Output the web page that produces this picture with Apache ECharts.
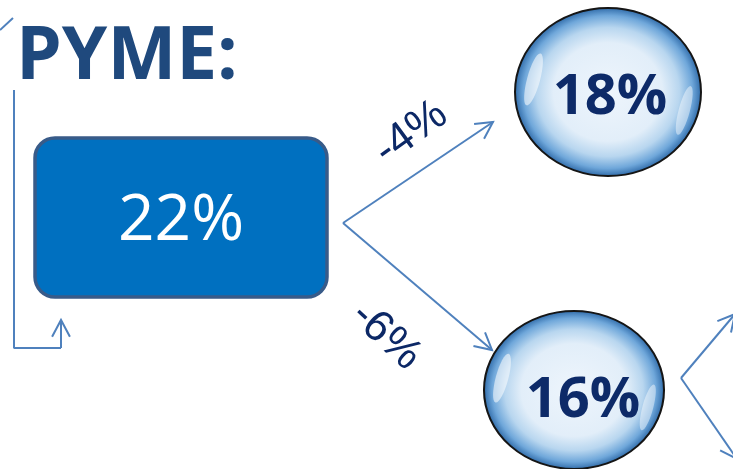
<!DOCTYPE html>
<html>
<head>
<meta charset="utf-8">
<script src="https://cdn.jsdelivr.net/npm/echarts@6/dist/echarts.min.js"></script>
<style>html,body{margin:0;padding:0;background:#fff}#c{width:733px;height:469px}</style>
</head>
<body>
<div id="c"></div>
<script>
// ---- data ----
const titleText = 'PYME:';
const nodeValues = ['22%', '18%', '16%'];
const changeValues = ['-4%', '-6%'];

// ---- layout (pixel-like data units on a hidden 733x469 grid) ----
const boxRect = [35, 138, 327, 297];                 // x0,y0,x1,y1
const bubbleCenters = [[608, 92], [574, 390]];
const bubbleRadii = [[93, 84], [90, 79]];
const nodeLabelPos = [[181, 222], [610, 98], [583, 401]];
const changeLabelPos = [[411, 133], [386, 336]];
const changeLabelAngle = [36, -43];
const arrowSegments = [                                // x1,y1,x2,y2,head
  [343, 223, 493, 122, 1],
  [343, 223, 492, 350, 1],
  [681, 378, 735, 314, 1],
  [681, 378, 737, 459, 1],
  [61, 348, 61, 320, 1],
  [0, 30, 13, 18, 0]
];
const bracketPath = [[14, 90], [14, 348], [61, 348]];

const arrowColor = '#4f81bd';
const navy = '#0c2866';

const chart = echarts.init(document.getElementById('c'), null, {renderer: 'canvas'});

const deg = Math.PI / 180;

chart.setOption({
  animation: false,
  grid: {left: 0, right: 0, top: 0, bottom: 0},
  xAxis: {type: 'value', min: 0, max: 733, show: false},
  yAxis: {type: 'value', min: 0, max: 469, inverse: true, show: false},
  series: [
    {
      type: 'line',
      data: bracketPath,
      symbol: 'none',
      lineStyle: {color: arrowColor, width: 2},
      z: 2
    },
    {
      type: 'custom',
      name: 'arrows',
      data: arrowSegments,
      renderItem: function (params, api) {
        const p1 = api.coord([api.value(0), api.value(1)]);
        const p2 = api.coord([api.value(2), api.value(3)]);
        const children = [{
          type: 'line',
          shape: {x1: p1[0], y1: p1[1], x2: p2[0], y2: p2[1]},
          style: {stroke: arrowColor, lineWidth: 2}
        }];
        if (api.value(4)) {
          const ang = Math.atan2(p2[1] - p1[1], p2[0] - p1[0]);
          const L = 19, spread = 28 * deg;
          const a1 = [p2[0] - L * Math.cos(ang - spread), p2[1] - L * Math.sin(ang - spread)];
          const a2 = [p2[0] - L * Math.cos(ang + spread), p2[1] - L * Math.sin(ang + spread)];
          children.push({
            type: 'polyline',
            shape: {points: [a1, p2, a2]},
            style: {stroke: arrowColor, lineWidth: 2, fill: null}
          });
        }
        return {type: 'group', children: children};
      },
      z: 3
    },
    {
      type: 'custom',
      name: 'box',
      data: [boxRect],
      renderItem: function (params, api) {
        const a = api.coord([api.value(0), api.value(1)]);
        const b = api.coord([api.value(2), api.value(3)]);
        return {
          type: 'rect',
          shape: {x: a[0], y: a[1], width: b[0] - a[0], height: b[1] - a[1], r: 20},
          style: {fill: '#0070c0', stroke: '#385b89', lineWidth: 3.5}
        };
      },
      z: 4
    },
    {
      type: 'custom',
      name: 'bubbles',
      data: bubbleCenters.map((c, i) => [c[0], c[1], bubbleRadii[i][0], bubbleRadii[i][1]]),
      renderItem: function (params, api) {
        const c = api.coord([api.value(0), api.value(1)]);
        const s = api.size([api.value(2), api.value(3)]);
        const rx = s[0], ry = s[1];
        return {
          type: 'group',
          children: [
            {
              type: 'circle',
              shape: {cx: c[0], cy: c[1], r: ry},
              scaleX: rx / ry, originX: c[0], originY: c[1],
              style: {
                fill: {
                  type: 'radial', x: 0.5, y: 0.5, r: 0.5,
                  colorStops: [
                    {offset: 0, color: '#eef5fc'},
                    {offset: 0.58, color: '#e2eef9'},
                    {offset: 0.76, color: '#b8d6ef'},
                    {offset: 0.9, color: '#6fa7da'},
                    {offset: 1, color: '#2b67a6'}
                  ]
                },
                stroke: '#151515',
                lineWidth: 1.8,
                strokeNoScale: true
              }
            },
            {
              type: 'ellipse',
              shape: {cx: c[0] - rx * 0.8, cy: c[1] - ry * 0.15, rx: rx * 0.07, ry: ry * 0.32},
              rotation: -15 * deg, originX: c[0] - rx * 0.8, originY: c[1] - ry * 0.15,
              style: {fill: 'rgba(255,255,255,0.55)'}
            },
            {
              type: 'ellipse',
              shape: {cx: c[0] + rx * 0.82, cy: c[1] + ry * 0.22, rx: rx * 0.06, ry: ry * 0.3},
              rotation: -15 * deg, originX: c[0] + rx * 0.82, originY: c[1] + ry * 0.22,
              style: {fill: 'rgba(255,255,255,0.45)'}
            }
          ]
        };
      },
      z: 4
    },
    {
      type: 'custom',
      name: 'nodeLabels',
      data: nodeLabelPos.map((p, i) => [p[0], p[1], i]),
      renderItem: function (params, api) {
        const p = api.coord([api.value(0), api.value(1)]);
        const i = api.value(2);
        const isBox = i === 0;
        return {
          type: 'text',
          x: p[0], y: p[1],
          style: {
            text: nodeValues[i],
            fill: isBox ? '#ffffff' : '#0d2a68',
            fontSize: isBox ? 64 : 56,
            fontWeight: isBox ? 'normal' : 'bold',
            fontFamily: 'Open Sans',
            align: 'center', verticalAlign: 'middle',
            textAlign: 'center', textVerticalAlign: 'middle'
          }
        };
      },
      z: 6
    },
    {
      type: 'custom',
      name: 'changeLabels',
      data: changeLabelPos.map((p, i) => [p[0], p[1], i]),
      renderItem: function (params, api) {
        const p = api.coord([api.value(0), api.value(1)]);
        const i = api.value(2);
        return {
          type: 'text',
          x: p[0], y: p[1],
          rotation: changeLabelAngle[i] * deg,
          style: {
            text: changeValues[i],
            fill: navy,
            fontSize: 44,
            fontFamily: 'Liberation Sans',
            align: 'center', verticalAlign: 'middle',
            textAlign: 'center', textVerticalAlign: 'middle'
          }
        };
      },
      z: 6
    },
    {
      type: 'custom',
      name: 'title',
      data: [[16, 58]],
      renderItem: function (params, api) {
        const p = api.coord([api.value(0), api.value(1)]);
        return {
          type: 'text',
          x: p[0], y: p[1],
          style: {
            text: titleText,
            fill: '#1f497d',
            fontSize: 73,
            fontWeight: 'bold',
            fontFamily: 'Open Sans',
            align: 'left', verticalAlign: 'middle',
            textAlign: 'left', textVerticalAlign: 'middle'
          }
        };
      },
      z: 6
    }
  ]
});
</script>
</body>
</html>
